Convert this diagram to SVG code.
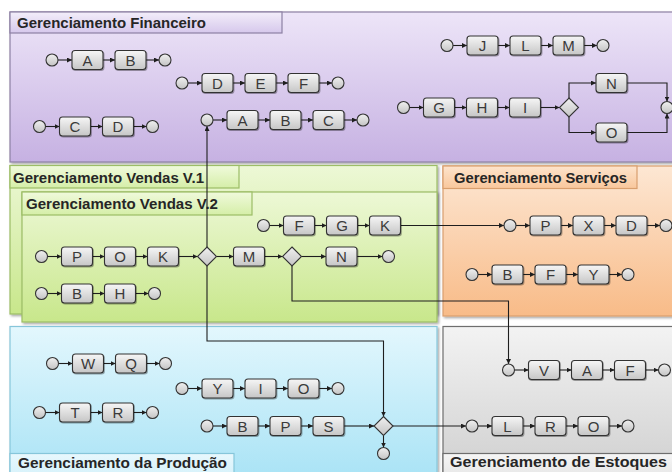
<svg xmlns="http://www.w3.org/2000/svg" width="672" height="472" viewBox="0 0 672 472">
  <defs>
    <linearGradient id="gFin" x1="0" y1="0" x2="0" y2="1">
      <stop offset="0" stop-color="#ede5f8"/>
      <stop offset="1" stop-color="#c6b1e2"/>
    </linearGradient>
    <linearGradient id="gFinH" x1="0" y1="0" x2="0" y2="1">
      <stop offset="0" stop-color="#f3eefa"/>
      <stop offset="1" stop-color="#d6c8ec"/>
    </linearGradient>
    <linearGradient id="gVen" x1="0" y1="0" x2="0" y2="1">
      <stop offset="0" stop-color="#edf8d6"/>
      <stop offset="1" stop-color="#c8e78b"/>
    </linearGradient>
    <linearGradient id="gVenH" x1="0" y1="0" x2="0" y2="1">
      <stop offset="0" stop-color="#f0fadc"/>
      <stop offset="1" stop-color="#d5eea8"/>
    </linearGradient>
    <linearGradient id="gSer" x1="0" y1="0" x2="0" y2="1">
      <stop offset="0" stop-color="#fde7d3"/>
      <stop offset="1" stop-color="#f8bb88"/>
    </linearGradient>
    <linearGradient id="gSerH" x1="0" y1="0" x2="0" y2="1">
      <stop offset="0" stop-color="#fde4cc"/>
      <stop offset="1" stop-color="#f9c79c"/>
    </linearGradient>
    <linearGradient id="gPro" x1="0" y1="0" x2="0" y2="1">
      <stop offset="0" stop-color="#e3f7fd"/>
      <stop offset="1" stop-color="#a6e2f5"/>
    </linearGradient>
    <linearGradient id="gProH" x1="0" y1="0" x2="0" y2="1">
      <stop offset="0" stop-color="#e8f8fd"/>
      <stop offset="1" stop-color="#d0f0fa"/>
    </linearGradient>
    <linearGradient id="gEst" x1="0" y1="0" x2="0" y2="1">
      <stop offset="0" stop-color="#f3f3f3"/>
      <stop offset="1" stop-color="#cdcdcd"/>
    </linearGradient>
    <linearGradient id="gEstH" x1="0" y1="0" x2="0" y2="1">
      <stop offset="0" stop-color="#f6f6f6"/>
      <stop offset="1" stop-color="#e2e2e2"/>
    </linearGradient>
    <linearGradient id="gBox" x1="0" y1="0" x2="0" y2="1">
      <stop offset="0" stop-color="#f6f6f6"/>
      <stop offset="1" stop-color="#c6c6c6"/>
    </linearGradient>
    <linearGradient id="gEv" x1="0" y1="0" x2="0" y2="1">
      <stop offset="0" stop-color="#f0f0f0"/>
      <stop offset="1" stop-color="#c4c4c4"/>
    </linearGradient>
    <filter id="shadow" x="-5%" y="-5%" width="110%" height="115%">
      <feDropShadow dx="1.5" dy="1.5" stdDeviation="1.2" flood-color="#000" flood-opacity="0.35"/>
    </filter>
    <filter id="shSmall" x="-20%" y="-20%" width="150%" height="160%">
      <feDropShadow dx="0.8" dy="1" stdDeviation="0.6" flood-color="#000" flood-opacity="0.35"/>
    </filter>
    <marker id="arr" viewBox="0 0 10 10" refX="10" refY="5" markerWidth="5" markerHeight="5" markerUnits="userSpaceOnUse" orient="auto">
      <path d="M0,0 L10,5 L0,10 z" fill="#1e1e1e"/>
    </marker>
  </defs>
  <style>
    .panel { stroke-width: 1.2; filter: url(#shadow); }
    .hdr { font-family: "Liberation Sans", Arial, sans-serif; font-weight: bold; font-size: 15px; fill: #262626; }
    .box { fill: url(#gBox); stroke: #333; stroke-width: 1.1; filter: url(#shSmall); }
    .ev { fill: url(#gEv); stroke: #333; stroke-width: 1.1; }
    .gw { fill: url(#gEv); stroke: #333; stroke-width: 1.1; }
    .lbl { font-family: "Liberation Sans", Arial, sans-serif; font-size: 15px; fill: #3a3a3a; text-anchor: middle; }
    .cn { fill: none; stroke: #1e1e1e; stroke-width: 1.1; marker-end: url(#arr); }
  </style>

  <!-- pools -->
  <g id="pool-financeiro">
    <rect class="panel" x="10" y="12" width="680" height="150" fill="url(#gFin)" stroke="#8d80a3"/>
    <rect x="10" y="12" width="272" height="21" fill="url(#gFinH)" stroke="#8d80a3" stroke-width="1.2"/>
    <text class="hdr" x="17" y="28" textLength="189" lengthAdjust="spacingAndGlyphs">Gerenciamento Financeiro</text>
  </g>
  <g id="pool-vendas-v1">
    <rect class="panel" x="10" y="165.5" width="427" height="148.5" fill="url(#gVen)" stroke="#9cbd66"/>
    <rect x="10" y="165.5" width="229" height="22.5" fill="url(#gVenH)" stroke="#9cbd66" stroke-width="1.2"/>
    <text class="hdr" x="13" y="183" textLength="191" lengthAdjust="spacingAndGlyphs">Gerenciamento Vendas V.1</text>
  </g>
  <g id="pool-vendas-v2">
    <rect class="panel" x="22" y="192" width="415" height="130" fill="url(#gVen)" stroke="#9cbd66"/>
    <rect x="22" y="192" width="230" height="23" fill="url(#gVenH)" stroke="#9cbd66" stroke-width="1.2"/>
    <text class="hdr" x="26" y="209" textLength="192" lengthAdjust="spacingAndGlyphs">Gerenciamento Vendas V.2</text>
  </g>
  <g id="pool-servicos">
    <rect class="panel" x="443" y="166" width="240" height="150" fill="url(#gSer)" stroke="#d99f6e"/>
    <rect x="443" y="166" width="194" height="22.5" fill="url(#gSerH)" stroke="#d99f6e" stroke-width="1.2"/>
    <text class="hdr" x="454" y="183" textLength="173" lengthAdjust="spacingAndGlyphs">Gerenciamento Serviços</text>
  </g>
  <g id="pool-producao">
    <rect class="panel" x="10" y="326.5" width="427" height="160" fill="url(#gPro)" stroke="#86c6da"/>
    <rect x="10" y="453.5" width="224" height="30" fill="url(#gProH)" stroke="#86c6da" stroke-width="1.2"/>
    <text class="hdr" x="18" y="467.5" textLength="209" lengthAdjust="spacingAndGlyphs">Gerenciamento da Produção</text>
  </g>
  <g id="pool-estoques">
    <rect class="panel" x="443" y="326.5" width="240" height="160" fill="url(#gEst)" stroke="#6e6e6e"/>
    <rect x="443" y="453.5" width="240" height="30" fill="url(#gEstH)" stroke="#6e6e6e" stroke-width="1.2"/>
    <text class="hdr" x="450" y="467" textLength="217" lengthAdjust="spacingAndGlyphs">Gerenciamento de Estoques</text>
  </g>

  <!-- connectors -->
  <g id="connectors">
    <!-- financeiro: A B -->
    <path class="cn" d="M58,60 H72"/><path class="cn" d="M103,60 H115"/><path class="cn" d="M146,60 H159"/>
    <!-- financeiro: D E F -->
    <path class="cn" d="M188,83 H202"/><path class="cn" d="M233,83 H245"/><path class="cn" d="M276,83 H288"/><path class="cn" d="M319,83 H332"/>
    <!-- financeiro: C D -->
    <path class="cn" d="M45.5,126.5 H59.5"/><path class="cn" d="M90.5,126.5 H102.5"/><path class="cn" d="M133.5,126.5 H146.5"/>
    <!-- financeiro: A B C -->
    <path class="cn" d="M213,120 H227"/><path class="cn" d="M258,120 H270"/><path class="cn" d="M301,120 H313"/><path class="cn" d="M344,120 H357"/>
    <!-- financeiro: J L M -->
    <path class="cn" d="M453,45.5 H467"/><path class="cn" d="M498,45.5 H510"/><path class="cn" d="M541,45.5 H553"/><path class="cn" d="M584,45.5 H597"/>
    <!-- financeiro: G H I and split -->
    <path class="cn" d="M409.5,107.5 H423.5"/><path class="cn" d="M454.5,107.5 H466.5"/><path class="cn" d="M497.5,107.5 H509.5"/>
    <path class="cn" d="M540.5,107.5 H559.5"/>
    <path class="cn" d="M569,98 V83 H596"/>
    <path class="cn" d="M569,117 V132.5 H596"/>
    <path class="cn" d="M627,83 H667 V101.5"/>
    <path class="cn" d="M627,132.5 H667 V113.5"/>

    <!-- vendas: P O K and gateways -->
    <path class="cn" d="M47.5,256.5 H61.5"/><path class="cn" d="M92.5,256.5 H104.5"/><path class="cn" d="M135.5,256.5 H147.5"/>
    <path class="cn" d="M178.5,256.5 H197.5"/>
    <path class="cn" d="M216.5,256.5 H233.5"/>
    <path class="cn" d="M264.5,256.5 H282.5"/>
    <path class="cn" d="M301.5,256.5 H326"/>
    <path class="cn" d="M357,256.5 H382.5"/>
    <path class="cn" d="M207,247 V126"/>
    <path class="cn" d="M207,266 V341 H383.5 V416.5"/>
    <path class="cn" d="M292,266 V301 H508.5 V364"/>
    <!-- vendas: B H -->
    <path class="cn" d="M47.5,293.5 H61.5"/><path class="cn" d="M92.5,293.5 H104.5"/><path class="cn" d="M135.5,293.5 H148.5"/>
    <!-- vendas: F G K -->
    <path class="cn" d="M269.5,225.5 H283.5"/><path class="cn" d="M314.5,225.5 H326.5"/><path class="cn" d="M357.5,225.5 H369.5"/>
    <path class="cn" d="M400.5,225.5 H504"/>

    <!-- servicos: P X D -->
    <path class="cn" d="M516,225.5 H530"/><path class="cn" d="M561,225.5 H573"/><path class="cn" d="M604,225.5 H616"/><path class="cn" d="M647,225.5 H660"/>
    <!-- servicos: B F Y -->
    <path class="cn" d="M478,274.5 H492"/><path class="cn" d="M523,274.5 H535"/><path class="cn" d="M566,274.5 H578"/><path class="cn" d="M609,274.5 H622"/>

    <!-- producao: W Q -->
    <path class="cn" d="M58.5,363.5 H72.5"/><path class="cn" d="M103.5,363.5 H115.5"/><path class="cn" d="M146.5,363.5 H159.5"/>
    <!-- producao: Y I O -->
    <path class="cn" d="M188,388.5 H202"/><path class="cn" d="M233,388.5 H245"/><path class="cn" d="M276,388.5 H288"/><path class="cn" d="M319,388.5 H332"/>
    <!-- producao: T R -->
    <path class="cn" d="M45.5,412.5 H59.5"/><path class="cn" d="M90.5,412.5 H102.5"/><path class="cn" d="M133.5,412.5 H146.5"/>
    <!-- producao: B P S and join -->
    <path class="cn" d="M213,426 H227"/><path class="cn" d="M258,426 H270"/><path class="cn" d="M301,426 H313"/>
    <path class="cn" d="M344,426 H374"/>
    <path class="cn" d="M383.5,435.5 V447.5"/>
    <path class="cn" d="M393,426 H466"/>

    <!-- estoques: V A F -->
    <path class="cn" d="M514.5,370 H528.5"/><path class="cn" d="M559.5,370 H571.5"/><path class="cn" d="M602.5,370 H614.5"/><path class="cn" d="M645.5,370 H658.5"/>
    <!-- estoques: L R O -->
    <path class="cn" d="M478,426 H492"/><path class="cn" d="M523,426 H535"/><path class="cn" d="M566,426 H578"/><path class="cn" d="M609,426 H622"/>
  </g>

  <!-- financeiro nodes -->
  <g id="f1-start"><circle class="ev" cx="52" cy="60" r="6"/></g>
  <g id="f1-a"><rect class="box" x="72" y="50.5" width="31" height="19" rx="3"/><text class="lbl" x="87.5" y="65.5">A</text></g>
  <g id="f1-b"><rect class="box" x="115" y="50.5" width="31" height="19" rx="3"/><text class="lbl" x="130.5" y="65.5">B</text></g>
  <g id="f1-end"><circle class="ev" cx="165" cy="60" r="6"/></g>

  <g id="f2-start"><circle class="ev" cx="182" cy="83" r="6"/></g>
  <g id="f2-d"><rect class="box" x="202" y="73.5" width="31" height="19" rx="3"/><text class="lbl" x="217.5" y="88.5">D</text></g>
  <g id="f2-e"><rect class="box" x="245" y="73.5" width="31" height="19" rx="3"/><text class="lbl" x="260.5" y="88.5">E</text></g>
  <g id="f2-f"><rect class="box" x="288" y="73.5" width="31" height="19" rx="3"/><text class="lbl" x="303.5" y="88.5">F</text></g>
  <g id="f2-end"><circle class="ev" cx="338" cy="83" r="6"/></g>

  <g id="f3-start"><circle class="ev" cx="39.5" cy="126.5" r="6"/></g>
  <g id="f3-c"><rect class="box" x="59.5" y="117" width="31" height="19" rx="3"/><text class="lbl" x="75" y="132">C</text></g>
  <g id="f3-d"><rect class="box" x="102.5" y="117" width="31" height="19" rx="3"/><text class="lbl" x="118" y="132">D</text></g>
  <g id="f3-end"><circle class="ev" cx="152.5" cy="126.5" r="6"/></g>

  <g id="f4-start"><circle class="ev" cx="207" cy="120" r="6"/></g>
  <g id="f4-a"><rect class="box" x="227" y="110.5" width="31" height="19" rx="3"/><text class="lbl" x="242.5" y="125.5">A</text></g>
  <g id="f4-b"><rect class="box" x="270" y="110.5" width="31" height="19" rx="3"/><text class="lbl" x="285.5" y="125.5">B</text></g>
  <g id="f4-c"><rect class="box" x="313" y="110.5" width="31" height="19" rx="3"/><text class="lbl" x="328.5" y="125.5">C</text></g>
  <g id="f4-end"><circle class="ev" cx="363" cy="120" r="6"/></g>

  <g id="f5-start"><circle class="ev" cx="447" cy="45.5" r="6"/></g>
  <g id="f5-j"><rect class="box" x="467" y="36" width="31" height="19" rx="3"/><text class="lbl" x="482.5" y="51">J</text></g>
  <g id="f5-l"><rect class="box" x="510" y="36" width="31" height="19" rx="3"/><text class="lbl" x="525.5" y="51">L</text></g>
  <g id="f5-m"><rect class="box" x="553" y="36" width="31" height="19" rx="3"/><text class="lbl" x="568.5" y="51">M</text></g>
  <g id="f5-end"><circle class="ev" cx="603" cy="45.5" r="6"/></g>

  <g id="f6-start"><circle class="ev" cx="403.5" cy="107.5" r="6"/></g>
  <g id="f6-g"><rect class="box" x="423.5" y="98" width="31" height="19" rx="3"/><text class="lbl" x="439" y="113">G</text></g>
  <g id="f6-h"><rect class="box" x="466.5" y="98" width="31" height="19" rx="3"/><text class="lbl" x="482" y="113">H</text></g>
  <g id="f6-i"><rect class="box" x="509.5" y="98" width="31" height="19" rx="3"/><text class="lbl" x="525" y="113">I</text></g>
  <g id="f6-split"><path class="gw" d="M569,98 L578.5,107.5 L569,117 L559.5,107.5 Z"/></g>
  <g id="f6-n"><rect class="box" x="596" y="73.5" width="31" height="19" rx="3"/><text class="lbl" x="611.5" y="88.5">N</text></g>
  <g id="f6-o"><rect class="box" x="596" y="123" width="31" height="19" rx="3"/><text class="lbl" x="611.5" y="138">O</text></g>
  <g id="f6-end"><circle class="ev" cx="667" cy="107.5" r="6"/></g>

  <!-- vendas nodes -->
  <g id="v1-start"><circle class="ev" cx="41.5" cy="256.5" r="6"/></g>
  <g id="v1-p"><rect class="box" x="61.5" y="247" width="31" height="19" rx="3"/><text class="lbl" x="77" y="262">P</text></g>
  <g id="v1-o"><rect class="box" x="104.5" y="247" width="31" height="19" rx="3"/><text class="lbl" x="120" y="262">O</text></g>
  <g id="v1-k"><rect class="box" x="147.5" y="247" width="31" height="19" rx="3"/><text class="lbl" x="163" y="262">K</text></g>
  <g id="v1-split"><path class="gw" d="M207,247 L216.5,256.5 L207,266 L197.5,256.5 Z"/></g>
  <g id="v1-m"><rect class="box" x="233.5" y="247" width="31" height="19" rx="3"/><text class="lbl" x="249" y="262">M</text></g>
  <g id="v1-split2"><path class="gw" d="M292,247 L301.5,256.5 L292,266 L282.5,256.5 Z"/></g>
  <g id="v1-n"><rect class="box" x="326" y="247" width="31" height="19" rx="3"/><text class="lbl" x="341.5" y="262">N</text></g>
  <g id="v1-end"><circle class="ev" cx="388.5" cy="256.5" r="6"/></g>

  <g id="v2-start"><circle class="ev" cx="41.5" cy="293.5" r="6"/></g>
  <g id="v2-b"><rect class="box" x="61.5" y="284" width="31" height="19" rx="3"/><text class="lbl" x="77" y="299">B</text></g>
  <g id="v2-h"><rect class="box" x="104.5" y="284" width="31" height="19" rx="3"/><text class="lbl" x="120" y="299">H</text></g>
  <g id="v2-end"><circle class="ev" cx="154.5" cy="293.5" r="6"/></g>

  <g id="v3-start"><circle class="ev" cx="263.5" cy="225.5" r="6"/></g>
  <g id="v3-f"><rect class="box" x="283.5" y="216" width="31" height="19" rx="3"/><text class="lbl" x="299" y="231">F</text></g>
  <g id="v3-g"><rect class="box" x="326.5" y="216" width="31" height="19" rx="3"/><text class="lbl" x="342" y="231">G</text></g>
  <g id="v3-k"><rect class="box" x="369.5" y="216" width="31" height="19" rx="3"/><text class="lbl" x="385" y="231">K</text></g>

  <!-- servicos nodes -->
  <g id="s1-start"><circle class="ev" cx="510" cy="225.5" r="6"/></g>
  <g id="s1-p"><rect class="box" x="530" y="216" width="31" height="19" rx="3"/><text class="lbl" x="545.5" y="231">P</text></g>
  <g id="s1-x"><rect class="box" x="573" y="216" width="31" height="19" rx="3"/><text class="lbl" x="588.5" y="231">X</text></g>
  <g id="s1-d"><rect class="box" x="616" y="216" width="31" height="19" rx="3"/><text class="lbl" x="631.5" y="231">D</text></g>
  <g id="s1-end"><circle class="ev" cx="666" cy="225.5" r="6"/></g>

  <g id="s2-start"><circle class="ev" cx="472" cy="274.5" r="6"/></g>
  <g id="s2-b"><rect class="box" x="492" y="265" width="31" height="19" rx="3"/><text class="lbl" x="507.5" y="280">B</text></g>
  <g id="s2-f"><rect class="box" x="535" y="265" width="31" height="19" rx="3"/><text class="lbl" x="550.5" y="280">F</text></g>
  <g id="s2-y"><rect class="box" x="578" y="265" width="31" height="19" rx="3"/><text class="lbl" x="593.5" y="280">Y</text></g>
  <g id="s2-end"><circle class="ev" cx="628" cy="274.5" r="6"/></g>

  <!-- producao nodes -->
  <g id="p1-start"><circle class="ev" cx="52.5" cy="363.5" r="6"/></g>
  <g id="p1-w"><rect class="box" x="72.5" y="354" width="31" height="19" rx="3"/><text class="lbl" x="88" y="369">W</text></g>
  <g id="p1-q"><rect class="box" x="115.5" y="354" width="31" height="19" rx="3"/><text class="lbl" x="131" y="369">Q</text></g>
  <g id="p1-end"><circle class="ev" cx="165.5" cy="363.5" r="6"/></g>

  <g id="p2-start"><circle class="ev" cx="182" cy="388.5" r="6"/></g>
  <g id="p2-y"><rect class="box" x="202" y="379" width="31" height="19" rx="3"/><text class="lbl" x="217.5" y="394">Y</text></g>
  <g id="p2-i"><rect class="box" x="245" y="379" width="31" height="19" rx="3"/><text class="lbl" x="260.5" y="394">I</text></g>
  <g id="p2-o"><rect class="box" x="288" y="379" width="31" height="19" rx="3"/><text class="lbl" x="303.5" y="394">O</text></g>
  <g id="p2-end"><circle class="ev" cx="338" cy="388.5" r="6"/></g>

  <g id="p3-start"><circle class="ev" cx="39.5" cy="412.5" r="6"/></g>
  <g id="p3-t"><rect class="box" x="59.5" y="403" width="31" height="19" rx="3"/><text class="lbl" x="75" y="418">T</text></g>
  <g id="p3-r"><rect class="box" x="102.5" y="403" width="31" height="19" rx="3"/><text class="lbl" x="118" y="418">R</text></g>
  <g id="p3-end"><circle class="ev" cx="152.5" cy="412.5" r="6"/></g>

  <g id="p4-start"><circle class="ev" cx="207" cy="426" r="6"/></g>
  <g id="p4-b"><rect class="box" x="227" y="416.5" width="31" height="19" rx="3"/><text class="lbl" x="242.5" y="431.5">B</text></g>
  <g id="p4-p"><rect class="box" x="270" y="416.5" width="31" height="19" rx="3"/><text class="lbl" x="285.5" y="431.5">P</text></g>
  <g id="p4-s"><rect class="box" x="313" y="416.5" width="31" height="19" rx="3"/><text class="lbl" x="328.5" y="431.5">S</text></g>
  <g id="p4-join"><path class="gw" d="M383.5,416.5 L393,426 L383.5,435.5 L374,426 Z"/></g>
  <g id="p4-end"><circle class="ev" cx="383.5" cy="453.5" r="6"/></g>

  <!-- estoques nodes -->
  <g id="e1-start"><circle class="ev" cx="508.5" cy="370" r="6"/></g>
  <g id="e1-v"><rect class="box" x="528.5" y="360.5" width="31" height="19" rx="3"/><text class="lbl" x="544" y="375.5">V</text></g>
  <g id="e1-a"><rect class="box" x="571.5" y="360.5" width="31" height="19" rx="3"/><text class="lbl" x="587" y="375.5">A</text></g>
  <g id="e1-f"><rect class="box" x="614.5" y="360.5" width="31" height="19" rx="3"/><text class="lbl" x="630" y="375.5">F</text></g>
  <g id="e1-end"><circle class="ev" cx="664.5" cy="370" r="6"/></g>

  <g id="e2-start"><circle class="ev" cx="472" cy="426" r="6"/></g>
  <g id="e2-l"><rect class="box" x="492" y="416.5" width="31" height="19" rx="3"/><text class="lbl" x="507.5" y="431.5">L</text></g>
  <g id="e2-r"><rect class="box" x="535" y="416.5" width="31" height="19" rx="3"/><text class="lbl" x="550.5" y="431.5">R</text></g>
  <g id="e2-o"><rect class="box" x="578" y="416.5" width="31" height="19" rx="3"/><text class="lbl" x="593.5" y="431.5">O</text></g>
  <g id="e2-end"><circle class="ev" cx="628" cy="426" r="6"/></g>
</svg>
